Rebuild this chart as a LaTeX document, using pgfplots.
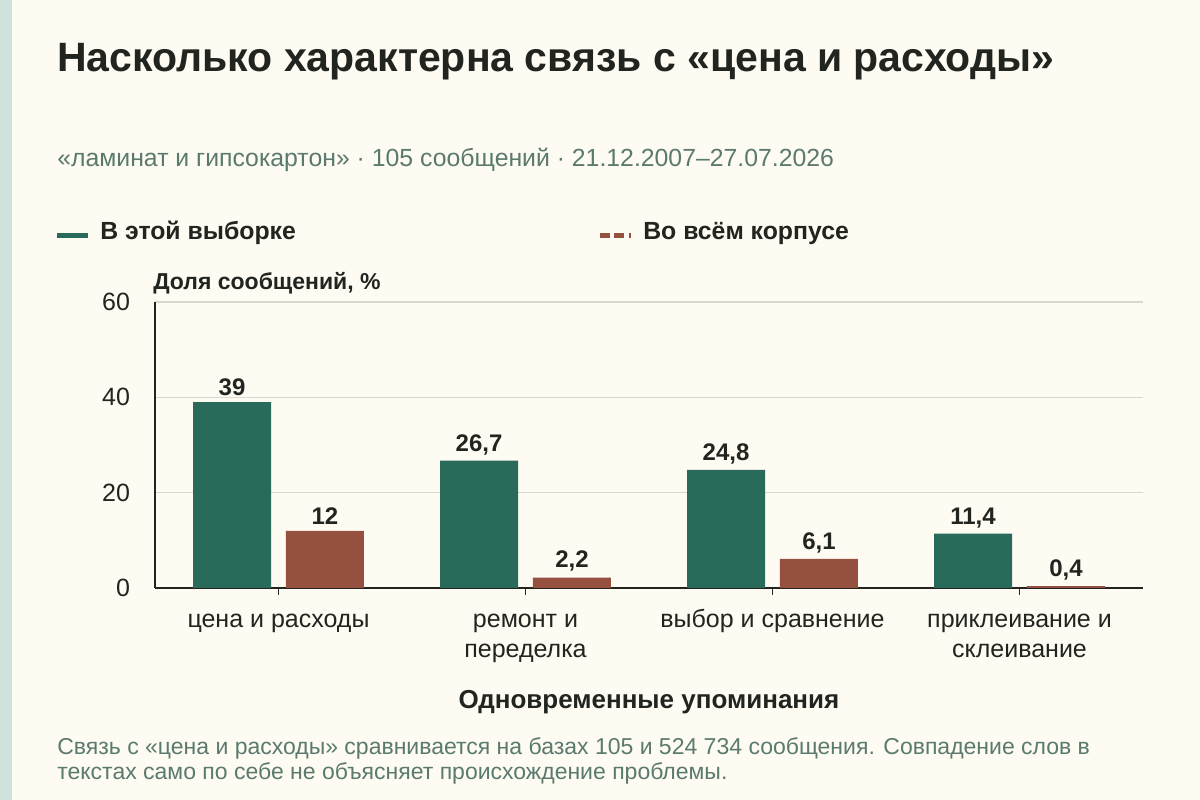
\documentclass[border=0pt]{standalone}
\usepackage{pgfplots}
\pgfplotsset{compat=1.18}
\usepackage{fontspec}
\setmainfont{Liberation Sans}

\definecolor{bgcol}{HTML}{FDFBF2}
\definecolor{stripcol}{HTML}{CFE3DC}
\definecolor{inkcol}{HTML}{222420}
\definecolor{subcol}{HTML}{5B7A6E}
\definecolor{greenbar}{HTML}{2A6A5A}
\definecolor{redbar}{HTML}{95503F}
\definecolor{gridcol}{HTML}{D8D8CE}

% sizes in pixels of the 1200x800 target (1px = 0.6pt)
\newcommand{\px}[2][1.2]{\pgfmathsetlengthmacro\fsz{#2*0.6pt}\pgfmathsetlengthmacro\lsz{#2*0.6pt*#1}\fontsize{\fsz}{\lsz}\selectfont}

\begin{document}
\begin{tikzpicture}[x=0.6pt,y=0.6pt]
\useasboundingbox (0,0) rectangle (1200,800);
\fill[bgcol] (0,0) rectangle (1200,800);
\fill[stripcol] (0,0) rectangle (12,800);
\coordinate (O) at (155,212);

% titles
\node[anchor=base west,inner sep=0,text=inkcol,font=\px{41}\bfseries] at (57,728) {Насколько характерна связь с «цена и расходы»};
\node[anchor=base west,inner sep=0,text=subcol,font=\px{24.8}] at (57,633) {«ламинат и гипсокартон» · 105 сообщений · 21.12.2007–27.07.2026};

% legend
\draw[greenbar,line width=3pt] (57,564) -- (88,564);
\node[anchor=base west,inner sep=0,text=inkcol,font=\px{24.8}\bfseries] at (100,560) {В этой выборке};
\draw[redbar,line width=3pt,dash pattern=on 6pt off 2.6pt] (600,564) -- (631,564);
\node[anchor=base west,inner sep=0,text=inkcol,font=\px{24.8}\bfseries] at (643,560) {Во всём корпусе};

% axis title
\node[anchor=base west,inner sep=0,text=inkcol,font=\px{23}\bfseries] at (153,510) {Доля сообщений, \%};

\begin{axis}[
  at={(O)}, anchor=south west,
  scale only axis, width=592.8pt, height=171.6pt,
  xmin=-0.5, xmax=3.5, ymin=0, ymax=60,
  axis lines*=left, axis line style={inkcol,line width=1.2pt},
  ytick={0,20,40,60}, ymajorgrids, grid style={gridcol,line width=0.7pt},
  xtick={0,1,2,3},
  xticklabels={\strut цена и расходы,{\strut ремонт и\\переделка},\strut выбор и сравнение,{\strut приклеивание и\\склеивание}},
  xticklabel style={align=center,font=\px[1.17]{25},text=inkcol,anchor=north,inner sep=0pt,yshift=-7.5pt},
  yticklabel style={font=\px{25},text=inkcol,anchor=east,inner sep=0pt,xshift=-10.8pt},
  /pgf/number format/assume math mode=true,
  major tick length=4pt,
  xtick style={inkcol,line width=0.6pt},
  ytick style={draw=none},
  tick align=outside,
  clip=false,
  ybar, bar width=0.316,
  nodes near coords={\pgfmathprintnumber[use comma,fixed,precision=1]{\pgfplotspointmeta}},
  every node near coord/.append style={font=\px{24}\bfseries,text=inkcol,yshift=0pt},
]
\addplot[draw=none,fill=greenbar,bar shift=-0.188] coordinates {(0,39) (1,26.7) (2,24.8) (3,11.4)};
\addplot[draw=none,fill=redbar,bar shift=0.188] coordinates {(0,12) (1,2.2) (2,6.1) (3,0.4)};
\end{axis}

% x axis title
\node[anchor=base,inner sep=0,text=inkcol,font=\px{26}\bfseries] at (649,91) {Одновременные упоминания};

% note
\node[anchor=base west,inner sep=0,text=subcol,font=\px{23}] at (57,45) {Связь с «цена и расходы» сравнивается на базах 105 и 524 734 сообщения. Совпадение слов в};
\node[anchor=base west,inner sep=0,text=subcol,font=\px{23}] at (57,20) {текстах само по себе не объясняет происхождение проблемы.};
\end{tikzpicture}
\end{document}
